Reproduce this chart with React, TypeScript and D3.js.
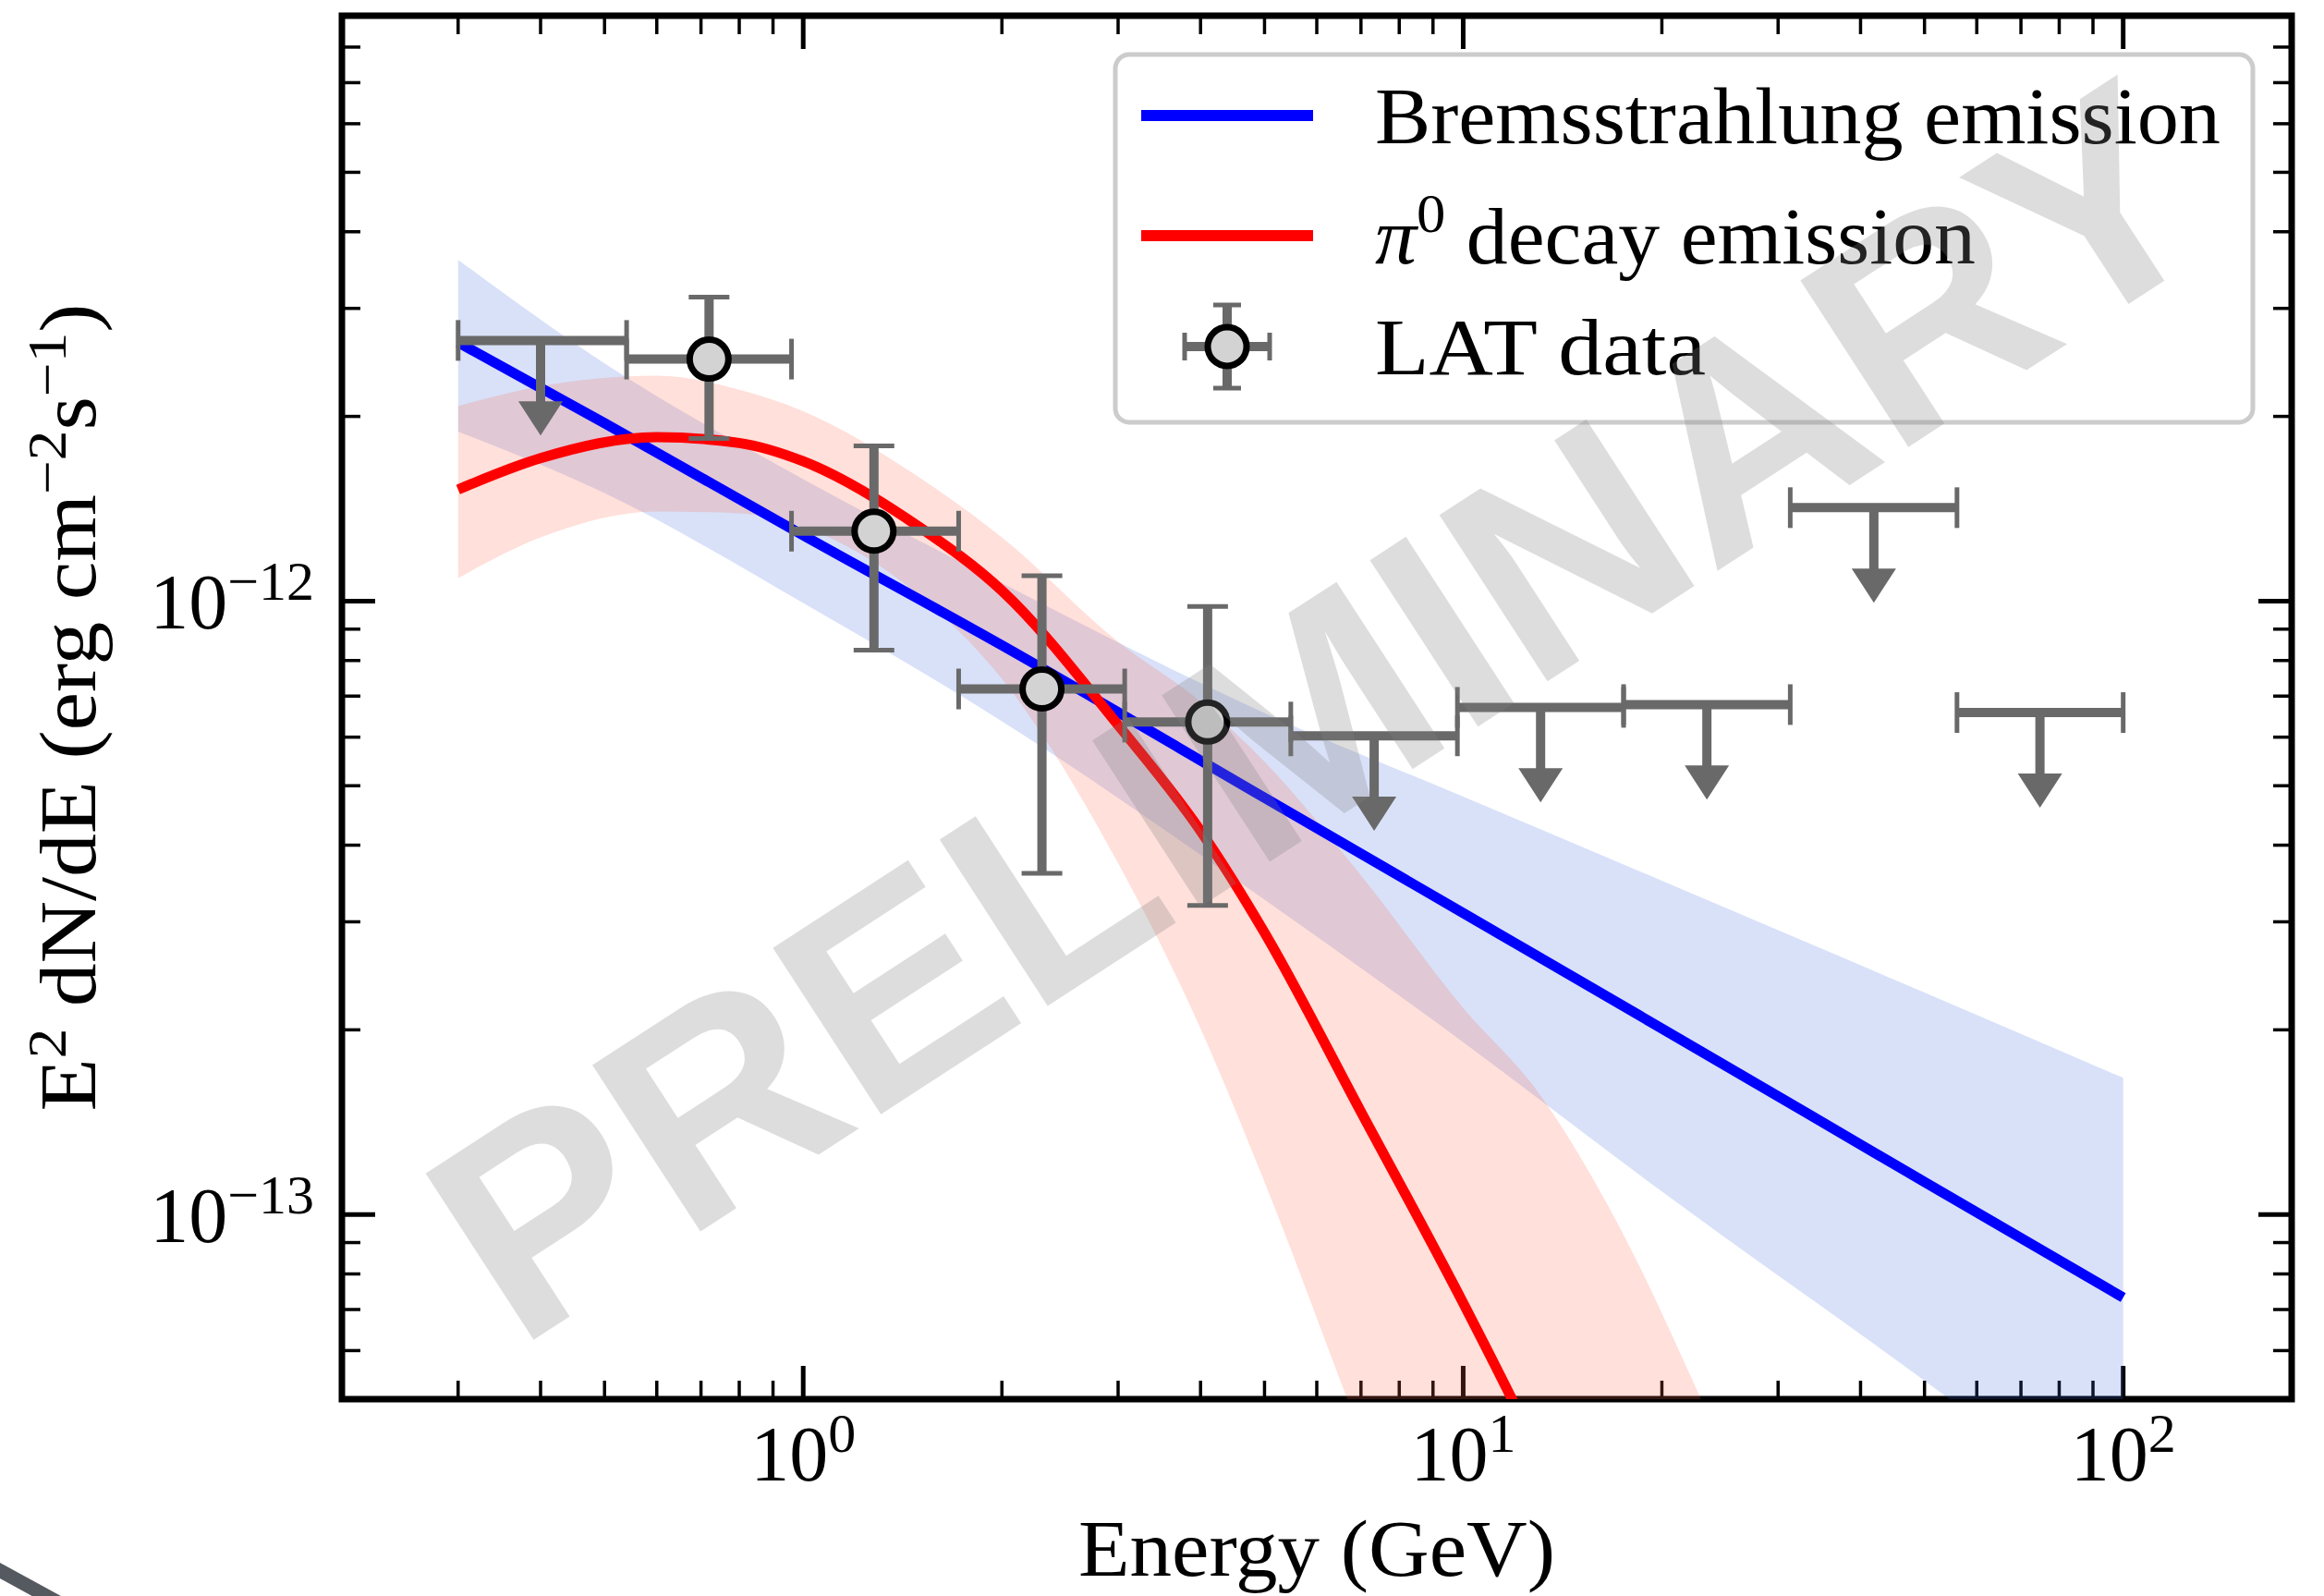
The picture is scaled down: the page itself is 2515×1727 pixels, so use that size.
import React from 'react';
import * as d3 from 'd3';

// ---- data ----
// bremsstrahlung model and its band
const bremE = [0.3, 0.5, 1, 2, 5, 10, 20, 50, 100];
const bremFlux = [2.64e-12, 1.95e-12, 1.28e-12, 8.47e-13, 4.78e-13, 3.1e-13, 2.01e-13, 1.13e-13, 7.32e-14];
const bremUpper = [3.6e-12, 2.44e-12, 1.58e-12, 1.07e-12, 6.57e-13, 4.8e-13, 3.5e-13, 2.3e-13, 1.67e-13];
const bremLower = [1.89e-12, 1.5e-12, 9.93e-13, 6.37e-13, 3.26e-13, 1.91e-13, 1.09e-13, 5.36e-14, 3.08e-14];

// pi0 decay model and its band
const pionE = [0.3, 0.4, 0.6, 0.8, 1, 1.5, 2, 3, 4, 5, 7, 10, 13, 17, 23];
const pionFlux = [1.52e-12, 1.71e-12, 1.85e-12, 1.81e-12, 1.69e-12, 1.32e-12, 1.04e-12, 6.28e-13, 4.22e-13, 2.88e-13, 1.47e-13, 7.17e-14, 4.09e-14, 2.21e-14, 1.08e-14];
const pionUpper = [2.08e-12, 2.24e-12, 2.33e-12, 2.21e-12, 2.04e-12, 1.59e-12, 1.27e-12, 8.58e-13, 6.85e-13, 5.47e-13, 3.57e-13, 2.17e-13, 1.58e-13, 9.83e-14, 4.96e-14];
const pionLower = [1.09e-12, 1.27e-12, 1.4e-12, 1.39e-12, 1.32e-12, 1.02e-12, 7.47e-13, 3.74e-13, 2.01e-13, 1.13e-13, 4.38e-14, 1.67e-14, 7.7e-15, 3.6e-15, 1.6e-15];

// LAT spectral points
const binE = [0.4, 0.72, 1.28, 2.3, 4.1, 7.33, 13.1, 23.4, 41.9, 74.8];
const binLo = [0.3, 0.54, 0.96, 1.72, 3.07, 5.48, 9.8, 17.5, 31.3, 56.0];
const binHi = [0.54, 0.96, 1.72, 3.07, 5.48, 9.8, 17.5, 31.3, 56.0, 100];
const binFlux = [2.66e-12, 2.48e-12, 1.3e-12, 7.19e-13, 6.35e-13, 6.03e-13, 6.71e-13, 6.78e-13, 1.42e-12, 6.58e-13];
const binFluxHi = [null, 3.13e-12, 1.79e-12, 1.1e-12, 9.8e-13, null, null, null, null, null];
const binFluxLo = [null, 1.84e-12, 8.32e-13, 3.6e-13, 3.19e-13, null, null, null, null, null];
const binIsUL = [true, false, false, false, false, true, true, true, true, true];
const ulFrac = 0.3; // upper limit arrows drawn down to (1 - ulFrac) * value

const legendLabels = ['Bremsstrahlung emission', 'decay emission', 'LAT data'];

const W = 2515;
const H = 1727;
const plot = { left: 370, right: 2480, top: 17, bottom: 1514 };

const xScale = d3.scaleLog().domain([0.2, 180]).range([plot.left, plot.right]);
const yScale = d3.scaleLog().domain([5e-14, 9e-12]).range([plot.bottom, plot.top]);

const serif = '"Liberation Serif", "DejaVu Serif", serif';
const errColor = '#696969';
const MINUS = '\u2212';

const isMajor = (v) => Math.abs(Math.log10(v) - Math.round(Math.log10(v))) < 1e-6;

const App = () => {
  const brem = bremE.map((e, i) => ({ e, f: bremFlux[i], lo: bremLower[i], hi: bremUpper[i] }));
  const pion = pionE.map((e, i) => ({ e, f: pionFlux[i], lo: pionLower[i], hi: pionUpper[i] }));

  const line = d3
    .line<any>()
    .x((d) => xScale(d.e))
    .y((d) => yScale(d.f))
    .curve(d3.curveMonotoneX);
  const band = d3
    .area<any>()
    .x((d) => xScale(d.e))
    .y0((d) => yScale(d.lo))
    .y1((d) => yScale(d.hi))
    .curve(d3.curveMonotoneX);

  const xTicks = xScale.ticks();
  const yTicks = yScale.ticks();

  const majLen = 36;
  const minLen = 20;

  const capHalf = 22;

  return (
    <svg width={W} height={H} style={{ position: 'absolute', left: 0, top: 0, background: '#fff' }}>
      <defs>
        <clipPath id="plotClip">
          <rect x={plot.left} y={plot.top} width={plot.right - plot.left} height={plot.bottom - plot.top} />
        </clipPath>
      </defs>

      {/* ticks, all four sides, pointing inward */}
      <g stroke="#000">
        {xTicks.map((t, i) => {
          const px = xScale(t);
          const len = isMajor(t) ? majLen : minLen;
          const sw = isMajor(t) ? 5 : 3.5;
          return (
            <g key={'xt' + i} strokeWidth={sw}>
              <line x1={px} x2={px} y1={plot.bottom} y2={plot.bottom - len} />
              <line x1={px} x2={px} y1={plot.top} y2={plot.top + len} />
            </g>
          );
        })}
        {yTicks.map((t, i) => {
          const py = yScale(t);
          const len = isMajor(t) ? majLen : minLen;
          const sw = isMajor(t) ? 5 : 3.5;
          return (
            <g key={'yt' + i} strokeWidth={sw}>
              <line x1={plot.left} x2={plot.left + len} y1={py} y2={py} />
              <line x1={plot.right} x2={plot.right - len} y1={py} y2={py} />
            </g>
          );
        })}
      </g>
      <rect
        x={plot.left}
        y={plot.top}
        width={plot.right - plot.left}
        height={plot.bottom - plot.top}
        fill="none"
        stroke="#000"
        strokeWidth={7}
      />

      {/* tick labels */}
      {xTicks.filter(isMajor).map((t, i) => (
        <text key={'xl' + i} x={xScale(t)} y={1602} textAnchor="middle" fontFamily={serif} fontSize={84}>
          10
          <tspan dy={-31} fontSize={60}>
            {Math.round(Math.log10(t))}
          </tspan>
        </text>
      ))}
      {yTicks.filter(isMajor).map((t, i) => (
        <text key={'yl' + i} x={340} y={yScale(t) + 30} textAnchor="end" fontFamily={serif} fontSize={84}>
          10
          <tspan dy={-31} fontSize={60}>
            {MINUS + Math.abs(Math.round(Math.log10(t)))}
          </tspan>
        </text>
      ))}

      {/* axis labels */}
      <text x={(plot.left + plot.right) / 2} y={1705} textAnchor="middle" fontFamily={serif} fontSize={86} textLength={516} lengthAdjust="spacingAndGlyphs">
        Energy (GeV)
      </text>
      <text
        transform={`translate(103,${(plot.top + plot.bottom) / 2}) rotate(-90)`}
        textAnchor="middle"
        fontFamily={serif}
        fontSize={86}
        textLength={874}
        lengthAdjust="spacingAndGlyphs"
      >
        E<tspan dy={-32} fontSize={60}>2</tspan>
        <tspan dy={32}> dN/dE (erg cm</tspan>
        <tspan dy={-32} fontSize={60}>{MINUS}2</tspan>
        <tspan dy={32}>s</tspan>
        <tspan dy={-32} fontSize={60}>{MINUS}1</tspan>
        <tspan dy={32}>)</tspan>
      </text>

      {/* model bands and lines */}
      <g clipPath="url(#plotClip)">
        <path d={band(brem)} fill="royalblue" fillOpacity={0.2} />
        <path d={band(pion)} fill="tomato" fillOpacity={0.2} />
        <path d={line(brem)} fill="none" stroke="#0000ff" strokeWidth={11} />
        <path d={line(pion)} fill="none" stroke="#ff0000" strokeWidth={11} />
      </g>

      {/* LAT data points */}
      <g>
        {binE.map((e, i) => {
          const cx = xScale(e);
          const cy = yScale(binFlux[i]);
          const xl = xScale(binLo[i]);
          const xh = xScale(binHi[i]);
          if (binIsUL[i]) {
            const tip = yScale(binFlux[i] * (1 - ulFrac));
            return (
              <g key={'ul' + i}>
                <line x1={xl} x2={xh} y1={cy} y2={cy} stroke={errColor} strokeWidth={10} />
                <line x1={xl} x2={xl} y1={cy - capHalf} y2={cy + capHalf} stroke={errColor} strokeWidth={5} />
                <line x1={xh} x2={xh} y1={cy - capHalf} y2={cy + capHalf} stroke={errColor} strokeWidth={5} />
                <line x1={cx} x2={cx} y1={cy} y2={tip - 20} stroke={errColor} strokeWidth={10} />
                <path d={`M${cx},${tip} L${cx - 24},${tip - 37} L${cx + 24},${tip - 37} Z`} fill={errColor} />
              </g>
            );
          }
          const yt = yScale(binFluxHi[i]);
          const yb = yScale(binFluxLo[i]);
          return (
            <g key={'pt' + i}>
              <line x1={xl} x2={xh} y1={cy} y2={cy} stroke={errColor} strokeWidth={10} />
              <line x1={cx} x2={cx} y1={yt} y2={yb} stroke={errColor} strokeWidth={10} />
              <line x1={xl} x2={xl} y1={cy - capHalf} y2={cy + capHalf} stroke={errColor} strokeWidth={5} />
              <line x1={xh} x2={xh} y1={cy - capHalf} y2={cy + capHalf} stroke={errColor} strokeWidth={5} />
              <line x1={cx - capHalf} x2={cx + capHalf} y1={yt} y2={yt} stroke={errColor} strokeWidth={5} />
              <line x1={cx - capHalf} x2={cx + capHalf} y1={yb} y2={yb} stroke={errColor} strokeWidth={5} />
              <circle cx={cx} cy={cy} r={21} fill="#d3d3d3" stroke="#000" strokeWidth={7} />
            </g>
          );
        })}
      </g>

      {/* legend */}
      <g>
        <rect x={1207} y={59} width={1231} height={398} rx={15} fill="#fff" fillOpacity={0.8} stroke="#cccccc" strokeWidth={5} />
        <line x1={1235} x2={1421} y1={125} y2={125} stroke="#0000ff" strokeWidth={12} />
        <text x={1488} y={155} fontFamily={serif} fontSize={86} textLength={915} lengthAdjust="spacingAndGlyphs">
          {legendLabels[0]}
        </text>
        <line x1={1235} x2={1421} y1={255} y2={255} stroke="#ff0000" strokeWidth={12} />
        <text x={1488} y={285} fontFamily={serif} fontSize={86} textLength={650} lengthAdjust="spacingAndGlyphs">
          <tspan fontStyle="italic">π</tspan>
          <tspan dy={-34} fontSize={60}>0</tspan>
          <tspan dy={34}> {legendLabels[1]}</tspan>
        </text>
        <g>
          <line x1={1282} x2={1374} y1={375} y2={375} stroke={errColor} strokeWidth={10} />
          <line x1={1328} x2={1328} y1={330} y2={420} stroke={errColor} strokeWidth={10} />
          <line x1={1282} x2={1282} y1={360} y2={390} stroke={errColor} strokeWidth={5} />
          <line x1={1374} x2={1374} y1={360} y2={390} stroke={errColor} strokeWidth={5} />
          <line x1={1313} x2={1343} y1={330} y2={330} stroke={errColor} strokeWidth={5} />
          <line x1={1313} x2={1343} y1={420} y2={420} stroke={errColor} strokeWidth={5} />
          <circle cx={1328} cy={375} r={21} fill="#d3d3d3" stroke="#000" strokeWidth={7} />
        </g>
        <text x={1488} y={405} fontFamily={serif} fontSize={86} textLength={358} lengthAdjust="spacingAndGlyphs">
          {legendLabels[2]}
        </text>
      </g>

      {/* watermark */}
      <text
        transform={`translate(${(plot.left + plot.right) / 2},${(plot.top + plot.bottom) / 2}) rotate(-33)`}
        textAnchor="middle"
        dy="0.36em"
        fontFamily='"Liberation Sans", Arial, sans-serif'
        fontWeight="bold"
        fontSize={312}
        textLength={2210}
        lengthAdjust="spacingAndGlyphs"
        fill="#808080"
        fillOpacity={0.27}
      >
        PRELIMINARY
      </text>

      {/* stray stroke at the lower-left corner */}
      <line x1={-10} y1={1694} x2={85} y2={1746} stroke="#555a60" strokeWidth={15} />
    </svg>
  );
};

export default App;
